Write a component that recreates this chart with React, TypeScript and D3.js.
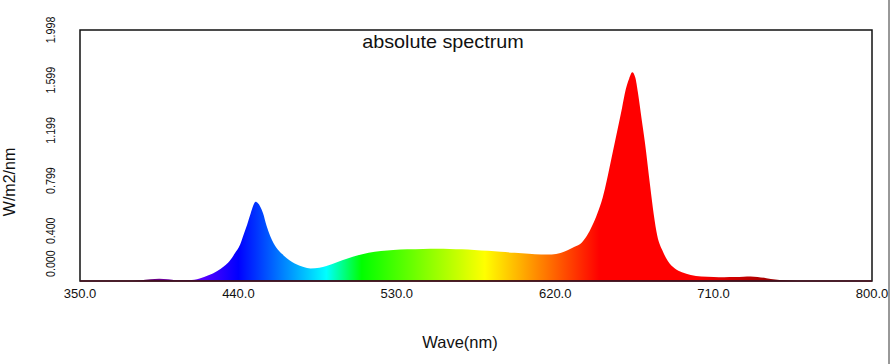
import * as d3 from 'd3';
import React, { useRef, useEffect } from 'react';

// spectrum (wavelength nm -> W/m2/nm)
const wavelengths = [350, 380, 384, 390, 395, 400, 405, 412, 418, 423, 428, 432, 435, 438, 441, 443, 445, 447, 449.8, 451, 452.5, 454, 456, 458, 460, 463, 466, 469, 472, 477, 481, 486, 490, 496, 502, 508, 514, 521, 528, 536, 545, 553, 560, 567, 574, 582, 589, 597, 605, 612, 618, 623, 627, 631, 635, 638, 641, 644, 647, 649.3, 652, 655, 658, 660, 662, 663.8, 665.5, 667, 669, 671, 674, 676, 678, 681, 684, 688, 692, 697, 703, 710, 716, 722, 727, 731, 735, 740, 745, 750, 755, 760, 800];
const irradiance = [0, 0, 0.004, 0.014, 0.018, 0.014, 0.006, 0.006, 0.02, 0.045, 0.08, 0.12, 0.16, 0.22, 0.29, 0.37, 0.45, 0.54, 0.631, 0.62, 0.59, 0.54, 0.44, 0.36, 0.3, 0.24, 0.2, 0.165, 0.14, 0.112, 0.1, 0.105, 0.12, 0.15, 0.18, 0.205, 0.225, 0.238, 0.246, 0.252, 0.255, 0.256, 0.255, 0.252, 0.247, 0.24, 0.232, 0.224, 0.216, 0.21, 0.211, 0.222, 0.245, 0.272, 0.305, 0.36, 0.44, 0.54, 0.665, 0.8, 0.98, 1.178, 1.38, 1.52, 1.61, 1.661, 1.62, 1.5, 1.3, 1.1, 0.75, 0.53, 0.36, 0.24, 0.16, 0.1, 0.07, 0.048, 0.036, 0.032, 0.03, 0.031, 0.034, 0.036, 0.032, 0.022, 0.012, 0.005, 0.002, 0, 0];

const xTicks = [350, 440, 530, 620, 710, 800];
const yTicks = [0, 0.3996, 0.7992, 1.1988, 1.599, 1.998];
const yTickLabels = ['0.000', '0.400', '0.799', '1.199', '1.599', '1.998'];

const W = 890;
const H = 364;
const margin = { top: 30, right: 18, bottom: 83, left: 80 };

// approximate visible colour of a wavelength
function waveColor(wl: number): string {
  let r = 0, g = 0, b = 0;
  if (wl < 440) { r = Math.max(0, (440 - wl) / 60); b = 1; }
  else if (wl < 490) { g = (wl - 440) / 50; b = 1; }
  else if (wl < 510) { g = 1; b = (510 - wl) / 20; }
  else if (wl < 580) { r = (wl - 510) / 70; g = 1; }
  else if (wl < 645) { r = 1; g = (645 - wl) / 65; }
  else { r = 1; }
  let f = 1;
  if (wl < 420) f = Math.max(0.3, 0.3 + 0.7 * (wl - 380) / 40);
  else if (wl > 700) f = Math.max(0.3, 0.3 + 0.7 * (780 - wl) / 80);
  return d3.rgb(r * f * 255, g * f * 255, b * f * 255).formatHex();
}

const App = () => {
  const ref = useRef<SVGSVGElement>(null);

  useEffect(() => {
    const svg = d3.select(ref.current);
    svg.selectAll('*').remove();

    const width = W - margin.left - margin.right;
    const height = H - margin.top - margin.bottom;

    const x = d3.scaleLinear().domain([350, 800]).range([margin.left, margin.left + width]);
    const y = d3.scaleLinear().domain([0, 1.998]).range([margin.top + height, margin.top]);

    const grad = svg.append('defs').append('linearGradient')
      .attr('id', 'spec')
      .attr('gradientUnits', 'userSpaceOnUse')
      .attr('x1', x(350)).attr('x2', x(800))
      .attr('y1', 0).attr('y2', 0);
    d3.range(350, 801, 5).forEach(wl => {
      grad.append('stop')
        .attr('offset', (wl - 350) / 450)
        .attr('stop-color', waveColor(wl));
    });

    const data = wavelengths.map((w, i) => [w, irradiance[i]] as [number, number]);
    const area = d3.area<[number, number]>()
      .x(d => x(d[0]))
      .y0(y(0))
      .y1(d => y(d[1]))
      .curve(d3.curveMonotoneX);

    svg.append('path')
      .datum(data)
      .attr('d', area)
      .attr('fill', 'url(#spec)');

    svg.append('rect')
      .attr('x', margin.left)
      .attr('y', margin.top)
      .attr('width', width)
      .attr('height', height)
      .attr('fill', 'none')
      .attr('stroke', '#111')
      .attr('stroke-width', 1.5);

    svg.append('line')
      .attr('x1', x(350)).attr('x2', x(800))
      .attr('y1', y(0)).attr('y2', y(0))
      .attr('stroke', '#4a1020')
      .attr('stroke-width', 1.5);

    const font = 'Liberation Sans, Arial, sans-serif';

    svg.append('g')
      .selectAll('text')
      .data(xTicks)
      .enter().append('text')
      .attr('x', d => x(d))
      .attr('y', 298)
      .attr('text-anchor', 'middle')
      .style('font-family', font)
      .style('font-size', '13px')
      .attr('fill', '#111')
      .text(d => d.toFixed(1));

    // rotated labels look squeezed along their length in the original
    svg.append('g')
      .selectAll('text')
      .data(yTicks)
      .enter().append('text')
      .attr('transform', (d, i) => `translate(55,${i === 0 ? 277 : y(d)}) rotate(-90) scale(0.82,1)`)
      .attr('text-anchor', (d, i) => (i === 0 ? 'start' : 'middle'))
      .style('font-family', font)
      .style('font-size', '13px')
      .attr('fill', '#111')
      .text((d, i) => yTickLabels[i]);

    svg.append('text')
      .attr('transform', 'translate(443,48) scale(1.1,1)')
      .attr('text-anchor', 'middle')
      .style('font-family', font)
      .style('font-size', '18px')
      .attr('fill', '#111')
      .text('absolute spectrum');

    svg.append('text')
      .attr('x', 460)
      .attr('y', 348)
      .attr('text-anchor', 'middle')
      .style('font-family', font)
      .style('font-size', '16.5px')
      .attr('fill', '#111')
      .text('Wave(nm)');

    svg.append('text')
      .attr('transform', 'translate(15,182) rotate(-90)')
      .attr('text-anchor', 'middle')
      .style('font-family', font)
      .style('font-size', '16px')
      .attr('fill', '#111')
      .text('W/m2/nm');

    svg.append('line')
      .attr('x1', 889).attr('x2', 889)
      .attr('y1', 0).attr('y2', H)
      .attr('stroke', '#333')
      .attr('stroke-width', 1);
  }, []);

  return (
    <svg
      ref={ref}
      width={W}
      height={H}
      style={{ position: 'absolute', left: 0, top: 0, background: '#fff' }}
    />
  );
};

export default App;
